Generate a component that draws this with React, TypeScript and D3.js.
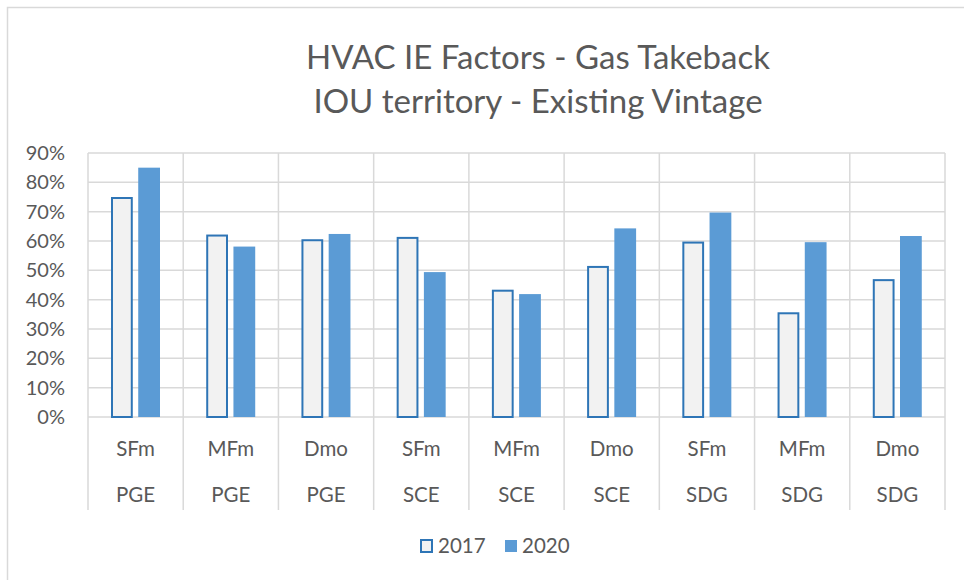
import React from "react";
import * as d3 from "d3";

// chart values
const utilities = ["PGE", "PGE", "PGE", "SCE", "SCE", "SCE", "SDG", "SDG", "SDG"];
const segments = ["SFm", "MFm", "Dmo", "SFm", "MFm", "Dmo", "SFm", "MFm", "Dmo"];
const years = ["2017", "2020"];
const values2017 = [0.75, 0.622, 0.606, 0.614, 0.434, 0.515, 0.598, 0.357, 0.47];
const values2020 = [0.85, 0.581, 0.624, 0.494, 0.419, 0.643, 0.697, 0.596, 0.617];
const yTicks = [0, 0.1, 0.2, 0.3, 0.4, 0.5, 0.6, 0.7, 0.8, 0.9];

const W = 964;
const H = 580;
const font = "Lato, 'Open Sans', sans-serif";
const textColor = "#595959";
const gridColor = "#d9d9d9";

export default function App() {
  const left = 88;
  const right = 945;
  const top = 153;
  const bottom = 417;
  const axisBottom = 510;

  const cats = segments.map((_d, i) => i);
  const x = d3.scaleBand<number>().domain(cats).range([left, right]).padding(0);
  const xInner = d3
    .scaleBand<string>()
    .domain(years)
    .range([23, 72])
    .paddingInner(0.2);
  const y = d3.scaleLinear().domain([0, 0.9]).range([bottom, top]);
  const fmt = d3.format(".0%");

  const series = [
    { key: "2017", values: values2017, fill: "#f2f2f2", stroke: "#2e75b6" },
    { key: "2020", values: values2020, fill: "#5b9bd5", stroke: "none" },
  ];

  const boundaries = [...cats.map((c) => x(c)!), right];

  return (
    <svg
      width={W}
      height={H}
      style={{ position: "absolute", left: 0, top: 0, background: "#fff" }}
      fontFamily={font}
    >
      {/* chart area border (cropped) */}
      <rect x={7.5} y={7.5} width={1200} height={1200} fill="#fff" stroke={gridColor} strokeWidth={1.5} />

      {/* title */}
      <g textAnchor="middle" fill={textColor} fontSize={33}>
        <text x={538} y={69}>HVAC IE Factors - Gas Takeback</text>
        <text x={538} y={113}>IOU territory - Existing Vintage</text>
      </g>

      {/* horizontal grid */}
      {yTicks.map((t) => (
        <line
          key={t}
          x1={left}
          x2={right}
          y1={y(t)}
          y2={y(t)}
          stroke={gridColor}
          strokeWidth={1.5}
        />
      ))}

      {/* vertical category lines */}
      {boundaries.map((bx, i) => (
        <line
          key={i}
          x1={bx}
          x2={bx}
          y1={top}
          y2={axisBottom}
          stroke={gridColor}
          strokeWidth={1.5}
        />
      ))}

      {/* y tick labels */}
      <g textAnchor="end" fill={textColor} fontSize={20}>
        {yTicks.map((t) => (
          <text key={t} x={65} y={y(t)} dy="0.35em">
            {fmt(t)}
          </text>
        ))}
      </g>

      {/* bars */}
      {series.map((s) => (
        <g key={s.key}>
          {s.values.map((v, i) => {
            const bx = x(i)! + xInner(s.key)!;
            const bw = xInner.bandwidth();
            const inset = s.stroke === "none" ? 0 : 1;
            return (
              <rect
                key={i}
                x={bx + inset}
                y={y(v) + inset}
                width={bw - inset * 2}
                height={y(0) - y(v) - inset}
                fill={s.fill}
                stroke={s.stroke}
                strokeWidth={2}
              />
            );
          })}
        </g>
      ))}

      {/* category labels */}
      <g textAnchor="middle" fill={textColor} fontSize={20.5}>
        {cats.map((c) => (
          <g key={c}>
            <text x={x(c)! + x.bandwidth() / 2} y={449} dy="0.35em">
              {segments[c]}
            </text>
            <text x={x(c)! + x.bandwidth() / 2} y={495} dy="0.35em">
              {utilities[c]}
            </text>
          </g>
        ))}
      </g>

      {/* legend */}
      <g fill={textColor} fontSize={20.5}>
        <rect x={421} y={540} width={11} height={12} fill="#f2f2f2" stroke="#2e75b6" strokeWidth={2} />
        <text x={438} y={546} dy="0.35em">2017</text>
        <rect x={505} y={540} width={12} height={12} fill="#5b9bd5" />
        <text x={522} y={546} dy="0.35em">2020</text>
      </g>
    </svg>
  );
}
